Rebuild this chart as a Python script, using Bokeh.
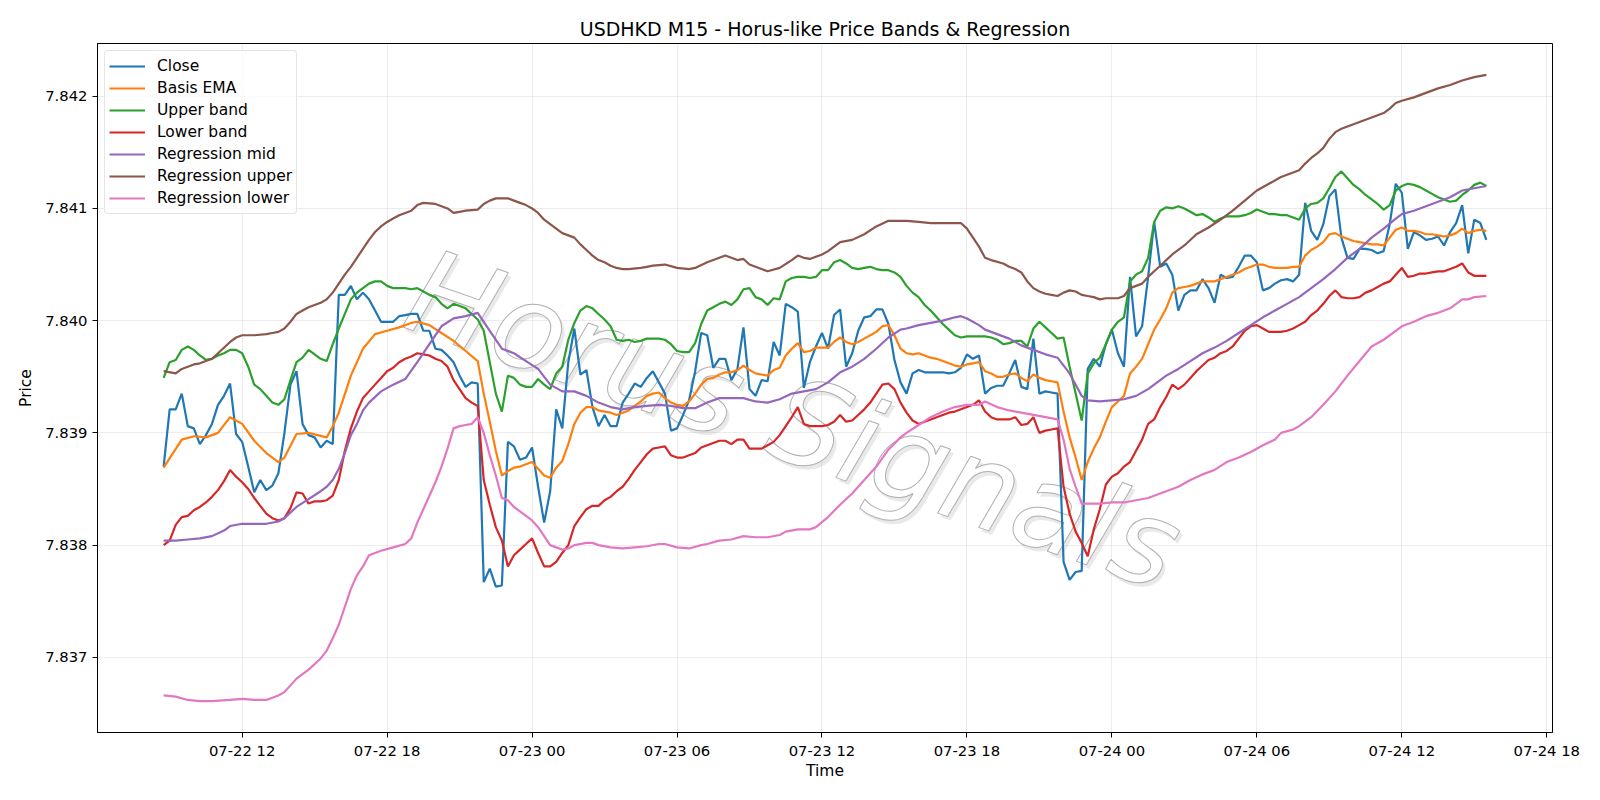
from datetime import datetime, timedelta
from bokeh.plotting import figure
from bokeh.models import (Range1d, FixedTicker, PrintfTickFormatter, DatetimeTickFormatter)
from bokeh.core.properties import value
from bokeh.embed import file_html
from bokeh.resources import INLINE

# ---------------- data (15-minute bars, index 0 = 2025-07-22 08:45) ----------------
start_time = datetime(2025, 7, 22, 8, 45)
bar_minutes = 15

close = [
    7.83870, 7.83921, 7.83921, 7.83935, 7.83906, 7.83904, 7.83890, 7.83898, 7.83908, 7.83925,
    7.83933, 7.83944, 7.83899, 7.83892, 7.83870, 7.83847, 7.83858, 7.83849, 7.83853, 7.83864,
    7.83900, 7.83943, 7.83955, 7.83908, 7.83898, 7.83896, 7.83887, 7.83893, 7.83890, 7.84023,
    7.84023, 7.84031, 7.84019, 7.84025, 7.84019, 7.84009, 7.83999, 7.83999, 7.83999, 7.84004,
    7.84005, 7.84006, 7.84006, 7.83991, 7.83991, 7.83975, 7.83974, 7.83969, 7.83963, 7.83951,
    7.83941, 7.83945, 7.83944, 7.83767, 7.83779, 7.83763, 7.83764, 7.83892, 7.83888, 7.83876,
    7.83878, 7.83887, 7.83852, 7.83820, 7.83848, 7.83921, 7.83904, 7.83963, 7.83993, 7.83952,
    7.83956, 7.83923, 7.83906, 7.83916, 7.83906, 7.83906, 7.83927, 7.83935, 7.83944, 7.83941,
    7.83949, 7.83955, 7.83945, 7.83935, 7.83902, 7.83904, 7.83916, 7.83929, 7.83955, 7.83989,
    7.83987, 7.83958, 7.83966, 7.83966, 7.83947, 7.83957, 7.83994, 7.83939, 7.83933, 7.83947,
    7.83946, 7.83981, 7.83969, 7.84015, 7.84012, 7.84008, 7.83940, 7.83963, 7.83977, 7.83989,
    7.83975, 7.84005, 7.84010, 7.83959, 7.83971, 7.83991, 7.84003, 7.84004, 7.84010, 7.84010,
    7.83997, 7.83965, 7.83945, 7.83935, 7.83953, 7.83956, 7.83954, 7.83954, 7.83954, 7.83954,
    7.83953, 7.83954, 7.83958, 7.83970, 7.83966, 7.83969, 7.83935, 7.83940, 7.83942, 7.83942,
    7.83953, 7.83965, 7.83941, 7.83939, 7.83984, 7.83935, 7.83937, 7.83936, 7.83935, 7.83785,
    7.83769, 7.83776, 7.83777, 7.83957, 7.83966, 7.83959, 7.83979, 7.83992, 7.83971, 7.83959,
    7.84039, 7.83986, 7.83995, 7.84039, 7.84088, 7.84048, 7.84051, 7.84041, 7.84009, 7.84023,
    7.84027, 7.84027, 7.84037, 7.84029, 7.84016, 7.84041, 7.84038, 7.84039, 7.84048, 7.84058,
    7.84058, 7.84052, 7.84027, 7.84029, 7.84033, 7.84036, 7.84037, 7.84035, 7.84041, 7.84105,
    7.84080, 7.84072, 7.84086, 7.84111, 7.84117, 7.84074, 7.84056, 7.84055, 7.84064, 7.84064,
    7.84063, 7.84060, 7.84062, 7.84086, 7.84122, 7.84114, 7.84064, 7.84079, 7.84076, 7.84072,
    7.84073, 7.84075, 7.84067, 7.84079, 7.84087, 7.84103, 7.84060, 7.84090, 7.84087, 7.84072,
]

ema_idx = [0, 3, 5, 7, 9, 11, 13, 15, 17, 19, 20, 22, 24, 27, 28, 29, 31, 33, 35, 37, 39, 41, 42, 44, 46, 48, 50, 52] + list(range(53, 220))
ema_val = [
    7.83869, 7.83894, 7.83897, 7.83896, 7.83900, 7.83914, 7.83908, 7.83893, 7.83882, 7.83874,
    7.83878, 7.83899, 7.83900, 7.83896, 7.83906, 7.83918, 7.83951, 7.83975, 7.83988, 7.83991,
    7.83994, 7.83998, 7.83999, 7.83996, 7.83989, 7.83982, 7.83973, 7.83964,
    7.83935, 7.83910, 7.83884, 7.83862, 7.83866, 7.83869, 7.83870, 7.83872, 7.83874, 7.83868,
    7.83862, 7.83860, 7.83869, 7.83875, 7.83890, 7.83908, 7.83918, 7.83923, 7.83923, 7.83920,
    7.83919, 7.83918, 7.83916, 7.83918, 7.83920, 7.83924, 7.83928, 7.83933, 7.83935, 7.83936,
    7.83931, 7.83927, 7.83925, 7.83924, 7.83928, 7.83935, 7.83943, 7.83948, 7.83949, 7.83952,
    7.83954, 7.83954, 7.83956, 7.83960, 7.83956, 7.83953, 7.83952, 7.83951, 7.83956, 7.83958,
    7.83969, 7.83975, 7.83980, 7.83972, 7.83973, 7.83976, 7.83976, 7.83976, 7.83981, 7.83985,
    7.83981, 7.83979, 7.83981, 7.83984, 7.83987, 7.83990, 7.83995, 7.83996, 7.83987, 7.83975,
    7.83971, 7.83970, 7.83971, 7.83969, 7.83967, 7.83966, 7.83964, 7.83962, 7.83960, 7.83959,
    7.83961, 7.83962, 7.83963, 7.83955, 7.83953, 7.83950, 7.83950, 7.83952, 7.83953, 7.83949,
    7.83946, 7.83952, 7.83949, 7.83947, 7.83946, 7.83945, 7.83919, 7.83896, 7.83878, 7.83858,
    7.83874, 7.83886, 7.83896, 7.83910, 7.83923, 7.83928, 7.83933, 7.83953, 7.83959, 7.83966,
    7.83979, 7.83992, 7.84001, 7.84011, 7.84025, 7.84029, 7.84030, 7.84031, 7.84033, 7.84035,
    7.84035, 7.84035, 7.84037, 7.84039, 7.84041, 7.84043, 7.84046, 7.84048, 7.84050, 7.84050,
    7.84048, 7.84047, 7.84047, 7.84047, 7.84048, 7.84048, 7.84058, 7.84063, 7.84066, 7.84070,
    7.84077, 7.84078, 7.84075, 7.84073, 7.84071, 7.84070, 7.84069, 7.84068, 7.84068, 7.84067,
    7.84074, 7.84081, 7.84083, 7.84080, 7.84080, 7.84079, 7.84077, 7.84077, 7.84076, 7.84075,
    7.84076, 7.84078, 7.84082, 7.84078, 7.84080, 7.84081, 7.84080,
]

upper_band = [
    7.83949, 7.83963, 7.83965, 7.83974, 7.83977, 7.83974, 7.83969, 7.83965, 7.83966, 7.83969,
    7.83971, 7.83974, 7.83974, 7.83971, 7.83959, 7.83943, 7.83939, 7.83933, 7.83927, 7.83925,
    7.83930, 7.83947, 7.83963, 7.83967, 7.83974, 7.83970, 7.83966, 7.83964, 7.83979, 7.83993,
    7.84006, 7.84019, 7.84025, 7.84029, 7.84033, 7.84035, 7.84035, 7.84031, 7.84029, 7.84029,
    7.84029, 7.84028, 7.84029, 7.84026, 7.84023, 7.84021, 7.84015, 7.84011, 7.84015, 7.84013,
    7.84011, 7.84006, 7.84001, 7.83991, 7.83963, 7.83935, 7.83919, 7.83951, 7.83949, 7.83943,
    7.83941, 7.83941, 7.83948, 7.83943, 7.83939, 7.83953, 7.83959, 7.83983, 7.83998, 7.84009,
    7.84013, 7.84011, 7.84006, 7.84001, 7.83995, 7.83983, 7.83982, 7.83983, 7.83981, 7.83982,
    7.83984, 7.83984, 7.83984, 7.83983, 7.83979, 7.83973, 7.83972, 7.83972, 7.83980, 7.83997,
    7.84009, 7.84012, 7.84015, 7.84017, 7.84014, 7.84019, 7.84028, 7.84029, 7.84021, 7.84019,
    7.84014, 7.84020, 7.84019, 7.84035, 7.84038, 7.84039, 7.84039, 7.84038, 7.84039, 7.84045,
    7.84045, 7.84052, 7.84054, 7.84051, 7.84047, 7.84046, 7.84047, 7.84048, 7.84046, 7.84045,
    7.84045, 7.84043, 7.84039, 7.84031, 7.84025, 7.84021, 7.84014, 7.84009, 7.84003, 7.83997,
    7.83992, 7.83987, 7.83985, 7.83986, 7.83986, 7.83986, 7.83986, 7.83985, 7.83983, 7.83979,
    7.83980, 7.83982, 7.83982, 7.83977, 7.83993, 7.83999, 7.83994, 7.83989, 7.83984, 7.83985,
    7.83959, 7.83935, 7.83911, 7.83953, 7.83962, 7.83967, 7.83979, 7.83992, 7.83999, 7.84003,
    7.84035, 7.84041, 7.84044, 7.84056, 7.84088, 7.84098, 7.84101, 7.84100, 7.84102, 7.84100,
    7.84097, 7.84094, 7.84095, 7.84092, 7.84088, 7.84091, 7.84093, 7.84093, 7.84093, 7.84094,
    7.84096, 7.84099, 7.84097, 7.84095, 7.84095, 7.84094, 7.84094, 7.84092, 7.84090, 7.84100,
    7.84104, 7.84105, 7.84109, 7.84118, 7.84128, 7.84133, 7.84127, 7.84121, 7.84117, 7.84112,
    7.84108, 7.84104, 7.84099, 7.84103, 7.84116, 7.84120, 7.84122, 7.84121, 7.84119, 7.84116,
    7.84113, 7.84110, 7.84108, 7.84106, 7.84107, 7.84112, 7.84116, 7.84121, 7.84123, 7.84120,
]

lower_band = [
    7.83800, 7.83804, 7.83818, 7.83825, 7.83826, 7.83831, 7.83834, 7.83838, 7.83843, 7.83849,
    7.83857, 7.83867, 7.83861, 7.83856, 7.83850, 7.83842, 7.83835, 7.83828, 7.83824, 7.83822,
    7.83824, 7.83833, 7.83847, 7.83846, 7.83837, 7.83839, 7.83839, 7.83840, 7.83844, 7.83858,
    7.83884, 7.83904, 7.83919, 7.83931, 7.83937, 7.83943, 7.83949, 7.83955, 7.83958, 7.83963,
    7.83966, 7.83968, 7.83971, 7.83970, 7.83969, 7.83966, 7.83964, 7.83959, 7.83947, 7.83939,
    7.83931, 7.83927, 7.83924, 7.83858, 7.83836, 7.83816, 7.83804, 7.83781, 7.83791, 7.83796,
    7.83801, 7.83806, 7.83793, 7.83781, 7.83781, 7.83785, 7.83793, 7.83800, 7.83817, 7.83825,
    7.83832, 7.83835, 7.83835, 7.83840, 7.83843, 7.83848, 7.83852, 7.83859, 7.83867, 7.83874,
    7.83881, 7.83886, 7.83887, 7.83888, 7.83880, 7.83878, 7.83878, 7.83880, 7.83882, 7.83887,
    7.83889, 7.83891, 7.83893, 7.83893, 7.83890, 7.83894, 7.83894, 7.83886, 7.83886, 7.83886,
    7.83889, 7.83892, 7.83898, 7.83906, 7.83914, 7.83923, 7.83908, 7.83906, 7.83906, 7.83906,
    7.83907, 7.83910, 7.83916, 7.83910, 7.83911, 7.83916, 7.83921, 7.83927, 7.83935, 7.83943,
    7.83944, 7.83939, 7.83927, 7.83918, 7.83911, 7.83908, 7.83910, 7.83912, 7.83914, 7.83916,
    7.83918, 7.83919, 7.83921, 7.83923, 7.83925, 7.83929, 7.83919, 7.83914, 7.83912, 7.83912,
    7.83912, 7.83914, 7.83907, 7.83908, 7.83914, 7.83900, 7.83902, 7.83903, 7.83904, 7.83852,
    7.83828, 7.83812, 7.83802, 7.83790, 7.83814, 7.83832, 7.83854, 7.83861, 7.83864, 7.83870,
    7.83874, 7.83884, 7.83894, 7.83908, 7.83912, 7.83923, 7.83932, 7.83943, 7.83939, 7.83943,
    7.83949, 7.83955, 7.83960, 7.83965, 7.83967, 7.83971, 7.83973, 7.83977, 7.83984, 7.83991,
    7.83995, 7.83996, 7.83993, 7.83990, 7.83990, 7.83990, 7.83991, 7.83993, 7.83996, 7.83999,
    7.84005, 7.84009, 7.84015, 7.84022, 7.84027, 7.84021, 7.84020, 7.84020, 7.84021, 7.84025,
    7.84027, 7.84030, 7.84033, 7.84035, 7.84041, 7.84047, 7.84039, 7.84040, 7.84042, 7.84042,
    7.84043, 7.84044, 7.84044, 7.84046, 7.84048, 7.84051, 7.84043, 7.84040, 7.84040, 7.84040,
]

reg_mid_idx = [0, 2, 4, 6, 8, 10, 11, 13, 15, 17, 19, 20, 22, 24, 26, 27, 28, 29, 30, 31, 32, 33, 34, 36, 38, 40,
               42, 44, 46, 48, 50, 52, 54, 56, 58, 60, 62, 64, 66, 68, 70, 72, 74, 76, 78, 80, 82, 84, 86, 88,
               90, 92, 94, 96, 98, 100, 102, 104, 106, 108, 110, 112, 114, 116, 118, 120, 122, 123, 125, 127,
               129, 131, 132, 133, 135, 136, 138, 140, 142, 144, 146, 148, 150, 152, 153, 155, 157, 159, 161,
               163, 165, 166, 168, 170, 172, 174, 176, 178, 180, 182, 184, 186, 188, 190, 192, 194, 196, 198,
               200, 202, 204, 205, 207, 209, 211, 213, 215, 217, 219]
reg_mid_val = [7.83804, 7.83804, 7.83805, 7.83806, 7.83808, 7.83813, 7.83817, 7.83819, 7.83819, 7.83819, 7.83821,
               7.83824, 7.83834, 7.83841, 7.83848, 7.83852, 7.83858, 7.83868, 7.83882, 7.83898, 7.83908, 7.83920,
               7.83927, 7.83937, 7.83943, 7.83948, 7.83963, 7.83979, 7.83995, 7.84002, 7.84004, 7.84007, 7.83991,
               7.83975, 7.83971, 7.83964, 7.83957, 7.83943, 7.83937, 7.83937, 7.83933, 7.83927, 7.83923, 7.83921,
               7.83923, 7.83924, 7.83925, 7.83924, 7.83922, 7.83922, 7.83927, 7.83931, 7.83931, 7.83931, 7.83928,
               7.83927, 7.83930, 7.83935, 7.83937, 7.83939, 7.83945, 7.83954, 7.83959, 7.83966, 7.83975, 7.83985,
               7.83992, 7.83993, 7.83996, 7.83998, 7.84000, 7.84003, 7.84004, 7.84002, 7.83996, 7.83992, 7.83988,
               7.83984, 7.83978, 7.83974, 7.83970, 7.83967, 7.83953, 7.83933, 7.83929, 7.83928, 7.83929, 7.83930,
               7.83933, 7.83939, 7.83947, 7.83951, 7.83957, 7.83964, 7.83971, 7.83976, 7.83982, 7.83989, 7.83996,
               7.84003, 7.84009, 7.84015, 7.84021, 7.84029, 7.84037, 7.84046, 7.84056, 7.84064, 7.84074, 7.84082,
               7.84091, 7.84095, 7.84098, 7.84102, 7.84106, 7.84110, 7.84116, 7.84118, 7.84120]

reg_up_idx = [0, 2, 3, 4, 5, 6, 8, 9, 11, 12, 13, 15, 17, 18, 19, 20, 21, 22, 23, 24, 25, 26, 27, 28, 29, 30, 31,
              32, 33, 34, 35, 36, 37, 38, 39, 40, 41, 42, 43, 45, 46, 47, 48, 49, 50, 52, 53, 54, 55, 56, 57, 58,
              59, 60, 61, 62, 63, 64, 65, 66, 67, 68, 69, 70, 71, 72, 73, 74, 75, 76, 77, 79, 80, 81, 83, 85, 87,
              88, 90, 92, 93, 95, 96, 97, 99, 100, 102, 104, 105, 106, 107, 109, 110, 112, 114, 116, 118, 120,
              121, 123, 125, 127, 129, 132, 133, 134, 135, 136, 137, 139, 140, 141, 142, 143, 144, 145, 146, 147,
              148, 149, 150, 151, 152, 153, 154, 155, 156, 158, 159, 160, 161, 162, 163, 164, 165, 167, 169, 171,
              173, 175, 177, 179, 181, 183, 185, 187, 188, 189, 190, 191, 192, 193, 194, 195, 196, 198, 200, 202,
              203, 204, 205, 207, 209, 211, 213, 215, 217, 219]
reg_up_val = [7.83955, 7.83953, 7.83957, 7.83959, 7.83961, 7.83962, 7.83966, 7.83971, 7.83981, 7.83985, 7.83987,
              7.83987, 7.83988, 7.83989, 7.83990, 7.83993, 7.83999, 7.84006, 7.84009, 7.84012, 7.84014, 7.84016,
              7.84019, 7.84025, 7.84033, 7.84041, 7.84048, 7.84056, 7.84064, 7.84072, 7.84079, 7.84084, 7.84088,
              7.84091, 7.84094, 7.84096, 7.84098, 7.84103, 7.84105, 7.84104, 7.84102, 7.84100, 7.84096, 7.84097,
              7.84098, 7.84099, 7.84104, 7.84107, 7.84109, 7.84109, 7.84109, 7.84107, 7.84105, 7.84103, 7.84100,
              7.84096, 7.84090, 7.84086, 7.84082, 7.84078, 7.84076, 7.84074, 7.84068, 7.84063, 7.84058, 7.84054,
              7.84052, 7.84049, 7.84047, 7.84046, 7.84046, 7.84047, 7.84048, 7.84049, 7.84050, 7.84047, 7.84046,
              7.84047, 7.84052, 7.84056, 7.84058, 7.84054, 7.84055, 7.84050, 7.84046, 7.84044, 7.84047, 7.84054,
              7.84058, 7.84056, 7.84055, 7.84059, 7.84062, 7.84070, 7.84072, 7.84077, 7.84084, 7.84089, 7.84089,
              7.84089, 7.84088, 7.84087, 7.84087, 7.84087, 7.84082, 7.84074, 7.84066, 7.84056, 7.84054, 7.84051,
              7.84048, 7.84046, 7.84043, 7.84035, 7.84029, 7.84026, 7.84024, 7.84023, 7.84022, 7.84025, 7.84027,
              7.84026, 7.84023, 7.84022, 7.84021, 7.84019, 7.84020, 7.84020, 7.84022, 7.84029, 7.84031, 7.84033,
              7.84039, 7.84044, 7.84049, 7.84059, 7.84067, 7.84077, 7.84083, 7.84090, 7.84098, 7.84107, 7.84116,
              7.84122, 7.84128, 7.84132, 7.84134, 7.84140, 7.84145, 7.84149, 7.84154, 7.84162, 7.84168, 7.84171,
              7.84173, 7.84177, 7.84181, 7.84185, 7.84189, 7.84194, 7.84196, 7.84199, 7.84203, 7.84207, 7.84210,
              7.84214, 7.84217, 7.84219]

reg_lo_idx = [0, 2, 4, 6, 8, 11, 13, 15, 17, 19, 20, 21, 22, 24, 26, 27, 28, 29, 30, 31, 32, 33, 34, 36, 38, 40,
              41, 42, 43, 44, 45, 46, 47, 48, 49, 50, 51, 52, 53, 54, 55, 56, 57, 58, 59, 60, 61, 62, 63, 64, 65,
              66, 67, 68, 69, 70, 71, 72, 74, 76, 78, 80, 82, 83, 85, 87, 89, 90, 92, 94, 96, 98, 100, 102, 103,
              105, 107, 108, 110, 112, 114, 116, 118, 120, 122, 123, 125, 127, 129, 131, 133, 135, 136, 138, 140,
              142, 144, 146, 148, 149, 150, 151, 152, 155, 157, 159, 161, 163, 164, 166, 168, 170, 172, 174, 176,
              178, 180, 182, 184, 185, 187, 188, 190, 192, 194, 196, 198, 200, 202, 204, 205, 207, 209, 211, 213,
              215, 216, 217, 219]
reg_lo_val = [7.83666, 7.83665, 7.83662, 7.83661, 7.83661, 7.83662, 7.83663, 7.83662, 7.83662, 7.83666, 7.83669,
              7.83675, 7.83681, 7.83689, 7.83699, 7.83706, 7.83717, 7.83729, 7.83745, 7.83761, 7.83773, 7.83781,
              7.83791, 7.83795, 7.83798, 7.83801, 7.83806, 7.83820, 7.83832, 7.83844, 7.83856, 7.83870, 7.83886,
              7.83904, 7.83906, 7.83907, 7.83908, 7.83914, 7.83900, 7.83880, 7.83862, 7.83842, 7.83840, 7.83834,
              7.83830, 7.83826, 7.83822, 7.83816, 7.83808, 7.83800, 7.83798, 7.83796, 7.83797, 7.83800, 7.83801,
              7.83802, 7.83802, 7.83800, 7.83798, 7.83797, 7.83798, 7.83799, 7.83801, 7.83801, 7.83798, 7.83797,
              7.83800, 7.83801, 7.83804, 7.83805, 7.83808, 7.83807, 7.83807, 7.83809, 7.83812, 7.83814, 7.83814,
              7.83816, 7.83825, 7.83836, 7.83846, 7.83858, 7.83870, 7.83885, 7.83896, 7.83900, 7.83907, 7.83914,
              7.83919, 7.83923, 7.83925, 7.83925, 7.83928, 7.83923, 7.83920, 7.83918, 7.83916, 7.83914, 7.83912,
              7.83894, 7.83868, 7.83852, 7.83837, 7.83837, 7.83838, 7.83838, 7.83840, 7.83842, 7.83844, 7.83848,
              7.83852, 7.83858, 7.83863, 7.83867, 7.83874, 7.83878, 7.83883, 7.83889, 7.83894, 7.83900, 7.83903,
              7.83906, 7.83914, 7.83925, 7.83937, 7.83951, 7.83964, 7.83977, 7.83983, 7.83991, 7.83995, 7.83999,
              7.84004, 7.84007, 7.84011, 7.84019, 7.84019, 7.84021, 7.84022]

x_tick_times = [datetime(2025, 7, 22, 12) + timedelta(hours=6 * k) for k in range(10)]
y_ticks = [7.837, 7.838, 7.839, 7.840, 7.841, 7.842]

title_text = "USDHKD M15 - Horus-like Price Bands & Regression"
watermark_text = "Horus Signals"
colors = ["#1f77b4", "#ff7f0e", "#2ca02c", "#d62728", "#9467bd", "#8c564b", "#e377c2"]

# ---------------- helpers ----------------
EPOCH = datetime(1970, 1, 1)


def to_ms(dt):
    return (dt - EPOCH).total_seconds() * 1000.0


t0_ms = to_ms(start_time)
bar_ms = bar_minutes * 60 * 1000


def bars_to_x(idx):
    return [t0_ms + i * bar_ms for i in idx]


n = len(close)
all_idx = list(range(n))

FONT = "DejaVu Sans"
TICK_FS = "14.8px"
LABEL_FS = "15.5px"

p = figure(width=1600, height=800, x_axis_type="datetime", output_backend="svg",
           toolbar_location=None,
           x_range=Range1d(t0_ms - 10.95 * bar_ms, t0_ms + 229.95 * bar_ms),
           y_range=Range1d(7.83633, 7.84247),
           min_border_left=97, min_border_right=48, min_border_top=43, min_border_bottom=68)

p.title.text = title_text
p.title.align = "center"
p.title.text_font = FONT
p.title.text_font_size = "19px"
p.title.text_font_style = "normal"
p.title.text_color = "black"
p.title.standoff = 8

# watermark (drop shadow + outlined letters), drawn first so the data lines sit on top
wm_x = [t0_ms + 37.5 * bar_ms]
wm_y = [7.83972]
p.text(x=wm_x, y=wm_y, text=[watermark_text], angle=-0.335, x_offset=3, y_offset=4,
       text_font=value(FONT), text_font_size=value("118px"), text_font_style="italic",
       text_color="#9a9a9a", text_alpha=0.22)
p.text(x=wm_x, y=wm_y, text=[watermark_text], angle=-0.335,
       text_font=value(FONT), text_font_size=value("118px"), text_font_style="italic",
       text_color="white", text_alpha=1.0, text_outline_color="#b0b0b0")

series = [
    ("Close", all_idx, close),
    ("Basis EMA", ema_idx, ema_val),
    ("Upper band", all_idx, upper_band),
    ("Lower band", all_idx, lower_band),
    ("Regression mid", reg_mid_idx, reg_mid_val),
    ("Regression upper", reg_up_idx, reg_up_val),
    ("Regression lower", reg_lo_idx, reg_lo_val),
]
for (name, idx, vals), c in zip(series, colors):
    p.line(bars_to_x(idx), vals, line_color=c, line_width=2.2, legend_label=name)

# axes
p.xaxis.ticker = FixedTicker(ticks=[to_ms(t) for t in x_tick_times])
fmt = "%m-%d %H"
p.xaxis.formatter = DatetimeTickFormatter(microseconds=fmt, milliseconds=fmt, seconds=fmt, minsec=fmt,
                                          minutes=fmt, hourmin=fmt, hours=fmt, days=fmt, months=fmt, years=fmt)
p.yaxis.ticker = FixedTicker(ticks=y_ticks)
p.yaxis.formatter = PrintfTickFormatter(format="%.3f")
p.xaxis.axis_label = "Time"
p.yaxis.axis_label = "Price"
for ax in (p.xaxis[0], p.yaxis[0]):
    ax.axis_label_text_font = FONT
    ax.axis_label_text_font_size = LABEL_FS
    ax.axis_label_text_font_style = "normal"
    ax.axis_label_text_color = "black"
    ax.major_label_text_font = FONT
    ax.major_label_text_font_size = TICK_FS
    ax.major_label_text_color = "black"
    ax.major_tick_out = 5
    ax.major_tick_in = 0
    ax.minor_tick_out = 0
    ax.minor_tick_in = 0
    ax.major_tick_line_color = "black"
    ax.axis_line_color = "black"
    ax.major_label_standoff = 5
p.xaxis[0].major_label_standoff = 4
p.xaxis[0].axis_label_standoff = 0
p.yaxis[0].axis_label_standoff = 7

p.outline_line_color = "black"
p.outline_line_width = 1
p.xgrid.ticker = p.xaxis.ticker
p.ygrid.ticker = p.yaxis.ticker
p.grid.grid_line_color = "#b0b0b0"
p.grid.grid_line_alpha = 0.3
p.grid.grid_line_width = 0.8

leg = p.legend[0]
leg.location = "top_left"
leg.margin = 7
leg.padding = 4
leg.spacing = 0
leg.label_height = 22
leg.glyph_height = 22
leg.glyph_width = 36
leg.label_standoff = 12
leg.label_text_font = FONT
leg.label_text_font_size = LABEL_FS
leg.label_text_color = "black"
leg.border_line_color = "#cccccc"
leg.border_line_width = 1
leg.background_fill_alpha = 0.8
if "border_radius" in leg.properties():
    leg.border_radius = 4

open("out.html", "w").write(file_html(p, INLINE))
